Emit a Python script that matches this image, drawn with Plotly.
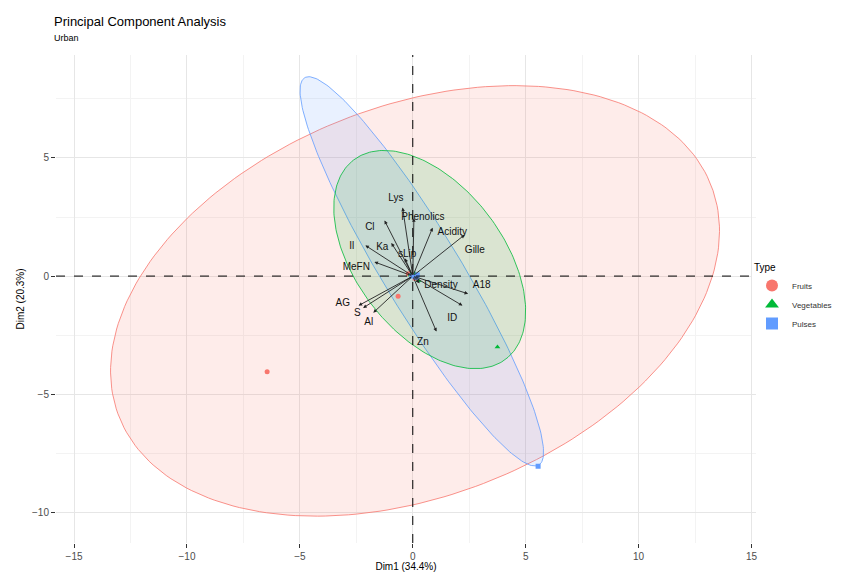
import numpy as np
import plotly.graph_objects as go

# ---- data -------------------------------------------------------------
groups = ["Fruits", "Vegetables", "Pulses"]
group_colors = ["#F8766D", "#00BA38", "#619CFF"]
group_symbols = ["circle", "triangle-up", "square"]

# individuals (Dim1, Dim2) per group
ind_x = {
    "Fruits": [-6.45, -0.65, 0.10, -0.20, 0.05],
    "Vegetables": [0.10, 0.25, -0.10, 3.75],
    "Pulses": [-0.05, 0.20, 0.15, 5.55],
}
ind_y = {
    "Fruits": [-4.05, -0.85, -0.10, 0.10, 0.05],
    "Vegetables": [0.10, -0.20, 0.05, -3.00],
    "Pulses": [0.00, 0.05, -0.05, -8.05],
}

# concentration ellipses per group: centre, semi-axes, rotation (deg)
ell_cx = {"Fruits": 0.1, "Vegetables": 0.75, "Pulses": 0.4}
ell_cy = {"Fruits": -1.05, "Vegetables": 0.7, "Pulses": 0.2}
ell_a = {"Fruits": 14.0, "Vegetables": 5.4, "Pulses": 9.7}
ell_b = {"Fruits": 8.3, "Vegetables": 3.2, "Pulses": 1.7}
ell_angle = {"Fruits": 19.5, "Vegetables": -50.0, "Pulses": -57.6}
ell_order = ["Fruits", "Pulses", "Vegetables"]

# variable loadings (arrow tips) and their label anchors
var_names = ["Lys", "Phenolics", "Acidity", "Gille", "Cl", "Ka", "Il", "sLip",
             "MeFN", "Density", "A18", "ID", "Zn", "AG", "S", "Al"]
var_x = [-0.45, 0.05, 0.88, 2.30, -1.25, -0.95, -2.10, -0.35,
         -1.70, 0.30, 2.45, 2.20, 1.05, -2.40, -2.20, -1.75]
var_y = [2.90, 2.45, 2.05, 1.75, 2.35, 1.40, 1.30, 0.75,
         0.60, -0.30, -0.75, -1.25, -2.35, -1.25, -1.35, -1.55]
lab_x = [-0.75, 0.45, 1.75, 2.75, -1.90, -1.35, -2.70, -0.25,
         -2.50, 1.25, 3.05, 1.75, 0.45, -3.10, -2.45, -1.95]
lab_y = [3.30, 2.50, 1.85, 1.10, 2.05, 1.20, 1.25, 0.90,
         0.35, -0.40, -0.40, -1.80, -2.80, -1.15, -1.60, -1.95]

x_ticks = [-15, -10, -5, 0, 5, 10, 15]
y_ticks = [5, 0, -5, -10]

FONT = "Liberation Sans"
W, H = 848, 572
ML, MR, MT, MB = 56, 92, 55, 29
PW, PH = W - ML - MR, H - MT - MB

fig = go.Figure()

# ellipses
t = np.linspace(0, 2 * np.pi, 240)
for g in ell_order:
    i = groups.index(g)
    th = np.deg2rad(ell_angle[g])
    ex = ell_cx[g] + ell_a[g] * np.cos(t) * np.cos(th) - ell_b[g] * np.sin(t) * np.sin(th)
    ey = ell_cy[g] + ell_a[g] * np.cos(t) * np.sin(th) + ell_b[g] * np.sin(t) * np.cos(th)
    c = group_colors[i]
    r, gg, b = int(c[1:3], 16), int(c[3:5], 16), int(c[5:7], 16)
    fig.add_trace(go.Scatter(
        x=ex, y=ey, mode="lines", fill="toself",
        fillcolor=f"rgba({r},{gg},{b},0.14)",
        line=dict(color=c, width=0.8),
        hoverinfo="skip", showlegend=False,
    ))

# individuals
for i, g in enumerate(groups):
    fig.add_trace(go.Scatter(
        x=ind_x[g], y=ind_y[g], mode="markers", name=g,
        marker=dict(color=group_colors[i], symbol=group_symbols[i], size=5),
        showlegend=True,
    ))

# variable labels
fig.add_trace(go.Scatter(
    x=lab_x, y=lab_y, mode="text", text=var_names,
    textfont=dict(family=FONT, size=10, color="#111111"),
    showlegend=False, hoverinfo="skip",
))

# variable arrows
for vx, vy in zip(var_x, var_y):
    fig.add_annotation(
        x=vx, y=vy, ax=0, ay=0, xref="x", yref="y", axref="x", ayref="y",
        showarrow=True, arrowhead=2, arrowsize=0.8, arrowwidth=0.9,
        arrowcolor="#222222", text="",
    )

# origin reference lines
fig.add_shape(type="line", xref="paper", yref="y", x0=0, x1=1, y0=0, y1=0,
              line=dict(color="black", width=1, dash="dash"))
fig.add_shape(type="line", xref="x", yref="paper", x0=0, x1=0, y0=0, y1=1,
              line=dict(color="black", width=1, dash="dash"))

# title and subtitle (paper coordinates measured from the panel)
fig.add_annotation(text="Principal Component Analysis", xref="paper", yref="paper",
                   x=(52 - ML) / PW, y=(H - MB - 22) / PH, xanchor="left", yanchor="middle",
                   showarrow=False, font=dict(family=FONT, size=13, color="black"))
fig.add_annotation(text="Urban", xref="paper", yref="paper",
                   x=(52 - ML) / PW, y=(H - MB - 38) / PH, xanchor="left", yanchor="middle",
                   showarrow=False, font=dict(family=FONT, size=9, color="black"))

axis_common = dict(
    showgrid=True, gridcolor="#E6E6E6", gridwidth=1, zeroline=False,
    showline=False, ticks="outside", ticklen=4, tickcolor="#333333",
    tickfont=dict(family=FONT, size=10, color="#4D4D4D"),
    minor=dict(showgrid=True, gridcolor="#F3F3F3", gridwidth=1, dtick=2.5),
)

fig.update_layout(
    width=W, height=H,
    paper_bgcolor="white", plot_bgcolor="white",
    margin=dict(l=ML, r=MR, t=MT, b=MB, autoexpand=False),
    xaxis=dict(range=[-15.8, 15.2], tickvals=x_ticks,
               title=dict(text="Dim1 (34.4%)", font=dict(family=FONT, size=10, color="black"), standoff=2),
               **axis_common),
    yaxis=dict(range=[-11.3, 9.36], tickvals=y_ticks,
               title=dict(text="Dim2 (20.3%)", font=dict(family=FONT, size=10, color="black"), standoff=5),
               **axis_common),
    legend=dict(
        title=dict(text="Type", font=dict(family=FONT, size=10, color="black")),
        font=dict(family=FONT, size=8, color="#333333"),
        x=(752 - ML) / PW, xanchor="left", y=(H - MB - 258) / PH, yanchor="top",
        itemsizing="constant", tracegroupgap=0,
    ),
    showlegend=True,
)

fig.write_html("out.html")
